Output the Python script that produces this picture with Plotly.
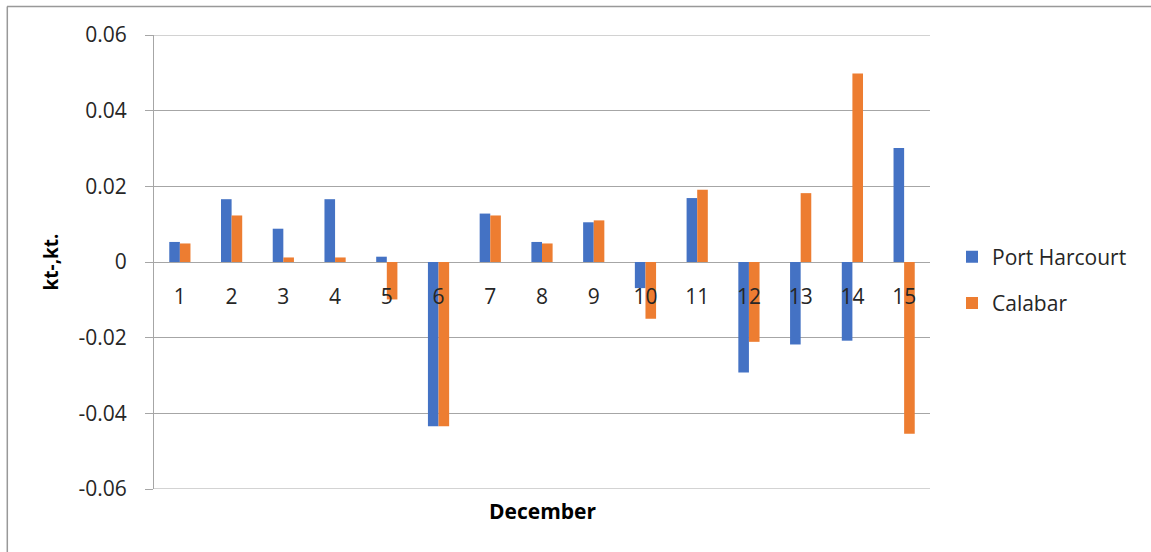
import plotly.graph_objects as go

days = [str(i) for i in range(1, 16)]
port_harcourt = [0.0053, 0.0166, 0.0088, 0.0166, 0.0014, -0.0434, 0.0128, 0.0053,
                 0.0105, -0.0069, 0.0169, -0.0292, -0.0218, -0.0208, 0.0301]
calabar = [0.0049, 0.0123, 0.0012, 0.0012, -0.0099, -0.0434, 0.0123, 0.0049,
           0.0110, -0.0150, 0.0191, -0.0211, 0.0182, 0.0498, -0.0454]

y_ticks = [-0.06, -0.04, -0.02, 0, 0.02, 0.04, 0.06]
y_labels = ["-0.06", "-0.04", "-0.02", "0", "0.02", "0.04", "0.06"]

FONT = "Open Sans"
GRID = "#a6a6a6"

fig = go.Figure()
fig.add_trace(go.Bar(x=days, y=port_harcourt, name="Port Harcourt",
                     marker=dict(color="#4472C4", line=dict(width=0)),
                     legendgroup="a"))
fig.add_trace(go.Bar(x=days, y=calabar, name="Calabar",
                     marker=dict(color="#ED7D31", line=dict(width=0)),
                     legendgroup="b"))

L, R, T, B = 154, 221, 35, 63
W, H = 1151, 552
pw = W - L - R
ph = H - T - B


def px_x(p):
    return (p - L) / pw


def px_y(p):
    return 1 - (p - T) / ph


shapes = [
    dict(type="line", xref="paper", yref="paper", x0=px_x(7), x1=px_x(1160),
         y0=px_y(6.5), y1=px_y(6.5), line=dict(color="#999999", width=1.5)),
    dict(type="line", xref="paper", yref="paper", x0=px_x(7.3), x1=px_x(7.3),
         y0=px_y(6.5), y1=px_y(560), line=dict(color="#999999", width=1.5)),
]
# edge gridlines (top and bottom tick values)
for v in (y_ticks[0], y_ticks[-1]):
    shapes.append(dict(type="line", xref="paper", yref="y", x0=0, x1=1, y0=v, y1=v,
                       line=dict(color=GRID, width=1), layer="below"))

fig.update_layout(
    width=W, height=H,
    margin=dict(l=L, r=R, t=T, b=B),
    paper_bgcolor="white", plot_bgcolor="white",
    font=dict(family=FONT, size=21, color="#262626"),
    barmode="group", bargap=0.59, bargroupgap=0,
    showlegend=True,
    legend=dict(x=px_x(952), y=px_y(280), xanchor="left", yanchor="middle",
                font=dict(family=FONT, size=21, color="#262626"),
                traceorder="grouped", tracegroupgap=16,
                bgcolor="rgba(0,0,0,0)"),
    xaxis=dict(
        anchor="free", position=0.5,
        showline=False, showgrid=False, zeroline=False, ticks="",
        tickfont=dict(family=FONT, size=21, color="#262626"),
        ticklabelstandoff=20,
    ),
    yaxis=dict(
        range=[-0.06, 0.06],
        tickvals=y_ticks, ticktext=y_labels,
        showline=True, linecolor=GRID, linewidth=1,
        showgrid=True, gridcolor=GRID, gridwidth=1,
        zeroline=True, zerolinecolor=GRID, zerolinewidth=1,
        ticks="outside", ticklen=8, tickcolor=GRID,
        ticklabelstandoff=14,
        tickfont=dict(family=FONT, size=21, color="#262626"),
        title=dict(text="<b>kt-,kt.</b>", font=dict(family=FONT, size=19, color="#000000"),
                   standoff=14),
    ),
    annotations=[
        dict(text="<b>December</b>", x=px_x(542), y=px_y(511), xref="paper", yref="paper",
             showarrow=False, xanchor="center", yanchor="middle",
             font=dict(family=FONT, size=21, color="#000000")),
    ],
    shapes=shapes,
)

fig.write_html("out.html")
